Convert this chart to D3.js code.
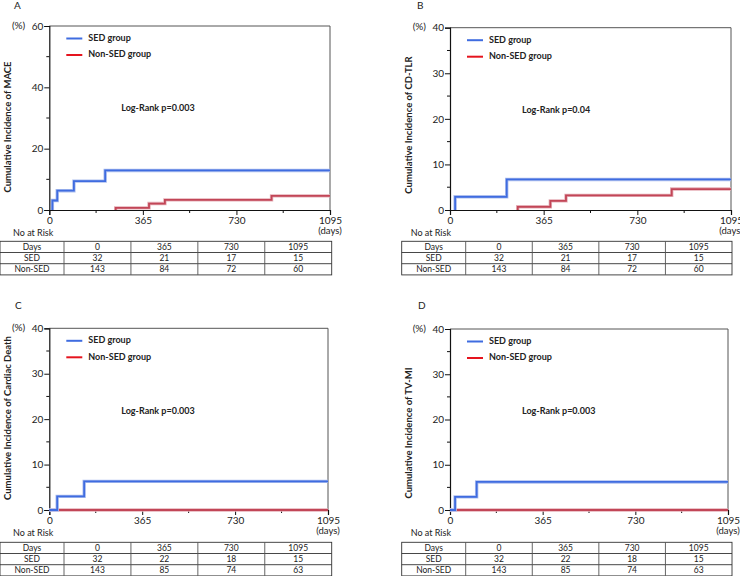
<!DOCTYPE html>
<html>
<head>
<meta charset="utf-8">
<script src="https://cdn.jsdelivr.net/npm/d3@7"></script>
<style>
  body { margin: 0; background: #fff; }
  svg { display: block; font-family: Lato, "Open Sans", sans-serif; }
</style>
</head>
<body>
<svg id="chart" width="740" height="576"></svg>
<script>
// --- data ---
const days = [0, 365, 730, 1095];
const rowNames = ["Days", "SED", "Non-SED"];
const legendNames = ["SED group", "Non-SED group"];

// A: MACE
const maceSedT = [0, 12, 31, 96, 218, 1095];
const maceSedV = [0, 3.1, 6.3, 9.4, 12.9, 12.9];
const maceNonT = [0, 259, 389, 451, 867, 1095];
const maceNonV = [0, 0.7, 2.1, 3.3, 4.6, 4.6];
const maceRiskSed = [32, 21, 17, 15];
const maceRiskNon = [143, 84, 72, 60];

// B: CD-TLR
const tlrSedT = [0, 20, 221, 1095];
const tlrSedV = [0, 2.9, 6.7, 6.7];
const tlrNonT = [0, 264, 391, 452, 864, 1095];
const tlrNonV = [0, 0.7, 2.0, 3.2, 4.6, 4.6];
const tlrRiskSed = [32, 21, 17, 15];
const tlrRiskNon = [143, 84, 72, 60];

// C: Cardiac death
const cdSedT = [0, 31, 137, 1095];
const cdSedV = [0, 3.0, 6.3, 6.3];
const cdNonT = [0, 1095];
const cdNonV = [0, 0];
const cdRiskSed = [32, 22, 18, 15];
const cdRiskNon = [143, 85, 74, 63];

// D: TV-MI
const miSedT = [0, 20, 105, 1095];
const miSedV = [0, 2.9, 6.2, 6.2];
const miNonT = [0, 1095];
const miNonV = [0, 0];
const miRiskSed = [32, 22, 18, 15];
const miRiskNon = [143, 85, 74, 63];

const panels = [
  {tag: "A", outcome: "MACE", yMax: 60, yStep: 20, p: "Log-Rank p=0.003",
   sedT: maceSedT, sedV: maceSedV, nonT: maceNonT, nonV: maceNonV, riskSed: maceRiskSed, riskNon: maceRiskNon,
   left: 49.3, right: 330, top: 26, bottom: 210, tagX: 14, tagY: 9, titleY: 127, curvesOnTop: false,
   tabL: 0, tabR: 331.7, tabTop: 241.3, riskX: 13},
  {tag: "B", outcome: "CD-TLR", yMax: 40, yStep: 10, p: "Log-Rank p=0.04",
   sedT: tlrSedT, sedV: tlrSedV, nonT: tlrNonT, nonV: tlrNonV, riskSed: tlrRiskSed, riskNon: tlrRiskNon,
   left: 450, right: 731, top: 27.7, bottom: 210, tagX: 417, tagY: 9, titleY: 125, curvesOnTop: false,
   tabL: 401.7, tabR: 732, tabTop: 241.3, riskX: 410.7},
  {tag: "C", outcome: "Cardiac Death", yMax: 40, yStep: 10, p: "Log-Rank p=0.003",
   sedT: cdSedT, sedV: cdSedV, nonT: cdNonT, nonV: cdNonV, riskSed: cdRiskSed, riskNon: cdRiskNon,
   left: 49.3, right: 328, top: 328.3, bottom: 510, tagX: 15, tagY: 309, titleY: 418, curvesOnTop: true,
   tabL: 0, tabR: 331.7, tabTop: 542.3, riskX: 13},
  {tag: "D", outcome: "TV-MI", yMax: 40, yStep: 10, p: "Log-Rank p=0.003",
   sedT: miSedT, sedV: miSedV, nonT: miNonT, nonV: miNonV, riskSed: miRiskSed, riskNon: miRiskNon,
   left: 450, right: 728, top: 329, bottom: 510, tagX: 418, tagY: 309, titleY: 433, curvesOnTop: true,
   tabL: 401.7, tabR: 732, tabTop: 542.3, riskX: 410.7}
];

const blue = "#3f6ce0", blueHalo = "#aebfee";
const red = "#c24657", redHalo = "#e6b0b8";
const svg = d3.select("#chart");

panels.forEach(drawPanel);

function drawPanel(c) {
  const g = svg.append("g");
  const x = d3.scaleLinear().domain([0, 1095]).range([c.left, c.right]);
  const y = d3.scaleLinear().domain([0, c.yMax]).range([c.bottom, c.top]);

  g.append("text").attr("x", c.tagX).attr("y", c.tagY).attr("font-size", 10)
    .attr("fill", "#222").text(c.tag);

  // frame top/right
  g.append("path")
    .attr("d", `M${c.left},${c.top}H${c.right}V${c.bottom}`)
    .attr("fill", "none").attr("stroke", "#555").attr("stroke-width", 1);

  const curveLayer = g.append("g");
  const axisLayer = g.append("g");
  if (c.curvesOnTop) curveLayer.raise();

  // curves; in A and B the flat run along the axis is not shown
  const line = d3.line().x(d => x(d[0])).y(d => y(d[1])).curve(d3.curveStepAfter);
  function visiblePts(t, v) {
    let pts = d3.zip(t, v);
    if (!c.curvesOnTop) {
      const first = pts.findIndex(d => d[1] > 0);
      if (first > 0) pts = [[pts[first][0], 0]].concat(pts.slice(first));
    }
    return pts;
  }
  const series = [
    {pts: visiblePts(c.nonT, c.nonV), col: red, halo: redHalo},
    {pts: visiblePts(c.sedT, c.sedV), col: blue, halo: blueHalo}
  ];
  series.forEach(s => {
    curveLayer.append("path").attr("d", line(s.pts)).attr("fill", "none")
      .attr("stroke", s.halo).attr("stroke-width", 3.4);
    curveLayer.append("path").attr("d", line(s.pts)).attr("fill", "none")
      .attr("stroke", s.col).attr("stroke-width", 1.8);
  });

  // y axis
  const yAxis = d3.axisLeft(y).tickValues(d3.range(0, c.yMax + 1, c.yStep))
    .tickSize(5).tickPadding(1).tickFormat(d3.format("d"));
  const ya = axisLayer.append("g").attr("transform", `translate(${c.left},0)`).call(yAxis);
  ya.select(".domain").attr("stroke", "#111").attr("stroke-width", 1.2);
  ya.selectAll(".tick line").attr("stroke", "#111");
  ya.selectAll("text").attr("font-size", 10).attr("fill", "#222").attr("font-family", "Lato, sans-serif");
  const yMinor = d3.range(c.yStep / 2, c.yMax, c.yStep);
  axisLayer.selectAll(".yminor").data(yMinor).join("line")
    .attr("x1", c.left - 3).attr("x2", c.left).attr("y1", d => y(d)).attr("y2", d => y(d))
    .attr("stroke", "#111");

  // x axis
  const xAxis = d3.axisBottom(x).tickValues(days).tickSize(5).tickPadding(2).tickFormat(d3.format("d"));
  const xa = axisLayer.append("g").attr("transform", `translate(0,${c.bottom})`).call(xAxis);
  xa.select(".domain").attr("stroke", "#111").attr("stroke-width", 1.2);
  xa.selectAll(".tick line").attr("stroke", "#111");
  xa.selectAll("text").attr("font-size", 10).attr("fill", "#222").attr("font-family", "Lato, sans-serif");
  const xMinor = [182.5, 547.5, 912.5];
  axisLayer.selectAll(".xminor").data(xMinor).join("line")
    .attr("x1", d => x(d)).attr("x2", d => x(d)).attr("y1", c.bottom).attr("y2", c.bottom + 3)
    .attr("stroke", "#111");
  g.append("text").attr("x", x(1095)).attr("y", c.bottom + 24).attr("text-anchor", "middle")
    .attr("font-size", 9.5).attr("fill", "#222").text("(days)");

  g.append("text").attr("x", c.left - 24).attr("y", c.top).attr("text-anchor", "end")
    .attr("dominant-baseline", "middle").attr("font-size", 10).attr("fill", "#222").text("(%)");

  // y title
  g.append("text").attr("transform", `translate(${c.left - 38},${c.titleY}) rotate(-90)`)
    .attr("text-anchor", "middle").attr("font-size", 9.5).attr("font-weight", "bold")
    .attr("fill", "#222").text("Cumulative Incidence of " + c.outcome);

  // legend
  [blue, "#e5141e"].forEach((col, i) => {
    const ly = c.top + 12.5 + i * 16.5;
    g.append("line").attr("x1", c.left + 17).attr("x2", c.left + 33).attr("y1", ly).attr("y2", ly)
      .attr("stroke", col).attr("stroke-width", 2);
    g.append("text").attr("x", c.left + 39).attr("y", ly).attr("dominant-baseline", "middle")
      .attr("font-size", 9).attr("font-weight", "bold").attr("fill", "#222").text(legendNames[i]);
  });

  g.append("text").attr("x", c.left + 72).attr("y", c.top + 83).attr("dominant-baseline", "middle")
    .attr("font-size", 9).attr("font-weight", "bold").attr("fill", "#222").text(c.p);

  // risk table
  g.append("text").attr("x", c.riskX).attr("y", c.bottom + 24).attr("dominant-baseline", "middle")
    .attr("font-size", 9).attr("fill", "#222").text("No at Risk");

  const firstW = 64;
  const colX = d3.scaleLinear().domain([0, 4]).range([c.tabL + firstW, c.tabR]);
  const rowH = 11.2;
  const rows = [days, c.riskSed, c.riskNon];
  const t = g.append("g");
  t.append("rect").attr("x", c.tabL).attr("y", c.tabTop).attr("width", c.tabR - c.tabL)
    .attr("height", rowH * 3).attr("fill", "none").attr("stroke", "#333").attr("stroke-width", 0.9);
  [1, 2].forEach(r => t.append("line").attr("x1", c.tabL).attr("x2", c.tabR)
    .attr("y1", c.tabTop + r * rowH).attr("y2", c.tabTop + r * rowH).attr("stroke", "#333").attr("stroke-width", 0.9));
  [0, 1, 2, 3].forEach(k => t.append("line").attr("x1", colX(k)).attr("x2", colX(k))
    .attr("y1", c.tabTop).attr("y2", c.tabTop + rowH * 3).attr("stroke", "#555").attr("stroke-width", 0.9));
  rows.forEach((vals, r) => {
    const cy = c.tabTop + (r + 0.5) * rowH + 0.5;
    t.append("text").attr("x", c.tabL + firstW / 2).attr("y", cy).attr("text-anchor", "middle")
      .attr("dominant-baseline", "middle").attr("font-size", 8.5).attr("fill", "#222").text(rowNames[r]);
    vals.forEach((v, k) => {
      t.append("text").attr("x", (colX(k) + colX(k + 1)) / 2).attr("y", cy).attr("text-anchor", "middle")
        .attr("dominant-baseline", "middle").attr("font-size", 8.5).attr("fill", "#222").text(v);
    });
  });
}
</script>
</body>
</html>
